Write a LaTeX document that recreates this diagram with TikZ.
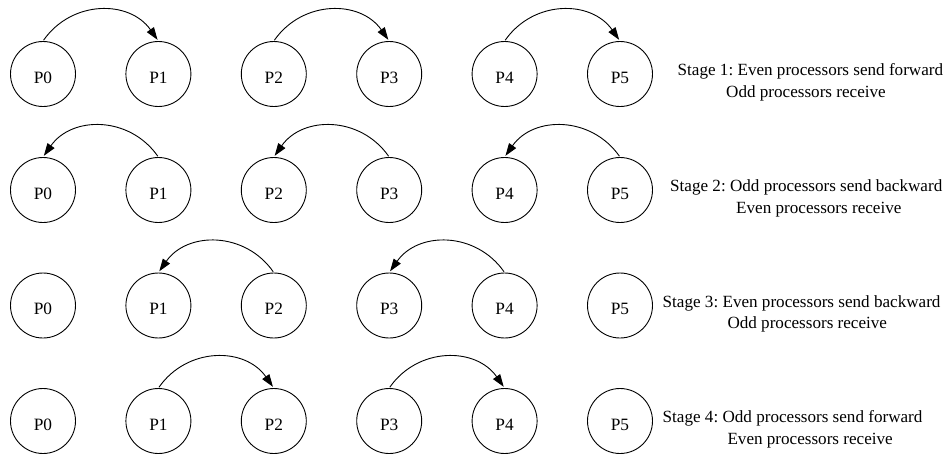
\documentclass[tikz,border=0pt]{standalone}
\usepackage{fontspec}
\setmainfont{Liberation Serif}
\usetikzlibrary{arrows.meta}
\begin{document}
\frenchspacing
\begin{tikzpicture}[x=1pt,y=1pt,
  proc/.style={circle,draw,line width=0.9pt,minimum size=65pt,inner sep=0pt,
    text height=18pt,text depth=0pt,font=\fontsize{17.3}{21}\selectfont},
  msg/.style={line width=0.9pt,-{Triangle[length=12.5pt,width=8.5pt]},
    shorten >=1.5pt,shorten <=1pt,looseness=1.12},
  fwd/.style={msg,out=55,in=125},
  bwd/.style={msg,out=125,in=55},
  stagetxt/.style={anchor=base west,inner sep=0pt,font=\fontsize{17.1}{21}\selectfont\frenchspacing}]
\useasboundingbox (0,0) rectangle (946,-453);
\foreach \r/\y in {1/-74,2/-190,3/-305.5,4/-421}{
  \foreach \i in {0,...,5}{
    \node[proc] (p\r\i) at ({43+115.4*\i},\y) {P\i};
  }
}
% Stage 1
\draw[fwd] (p10.north) to (p11.north);
\draw[fwd] (p12.north) to (p13.north);
\draw[fwd] (p14.north) to (p15.north);
% Stage 2
\draw[bwd] (p21.north) to (p20.north);
\draw[bwd] (p23.north) to (p22.north);
\draw[bwd] (p25.north) to (p24.north);
% Stage 3
\draw[bwd] (p32.north) to (p31.north);
\draw[bwd] (p34.north) to (p33.north);
% Stage 4
\draw[fwd] (p41.north) to (p42.north);
\draw[fwd] (p43.north) to (p44.north);
% Labels
\node[stagetxt] (s1a) at (677.5,-75.5) {Stage 1: Even processors send forward};
\node[stagetxt] (s1b) at (726,-97) {Odd processors receive};
\node[stagetxt] (s2a) at (670,-191.5) {Stage 2: Odd processors send backward};
\node[stagetxt] (s2b) at (736,-213) {Even processors receive};
\node[stagetxt] (s3a) at (662.5,-307) {Stage 3: Even processors send backward};
\node[stagetxt] (s3b) at (727.3,-328.5) {Odd processors receive};
\node[stagetxt] (s4a) at (662.5,-422.5) {Stage 4: Odd processors send forward};
\node[stagetxt] (s4b) at (727.3,-444) {Even processors receive};
\end{tikzpicture}
\end{document}
